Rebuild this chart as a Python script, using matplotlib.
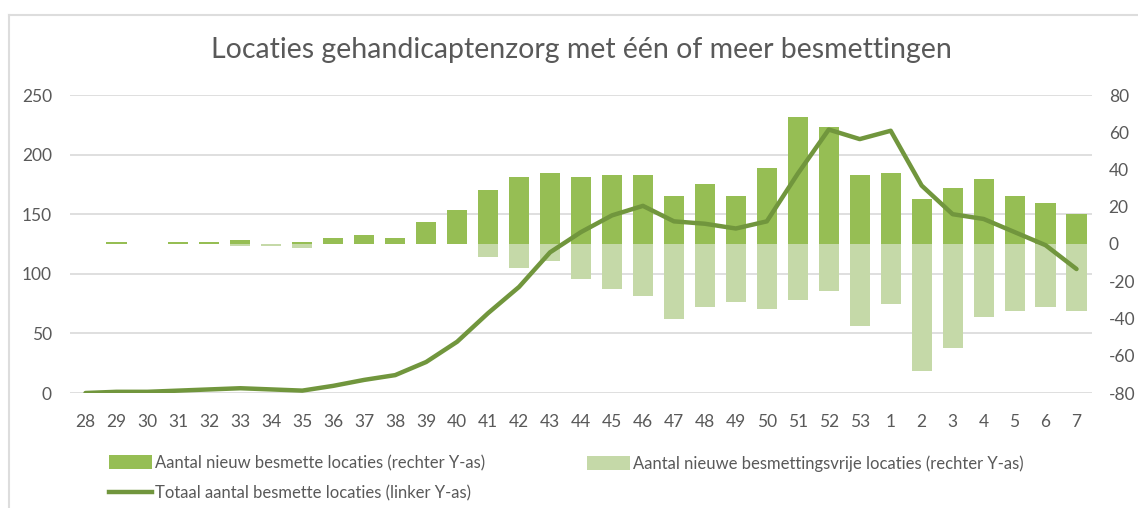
import matplotlib
matplotlib.use("Agg")
import matplotlib.pyplot as plt
from matplotlib.lines import Line2D
from matplotlib.patches import Patch
import numpy as np

weeks = [str(w) for w in range(28, 54)] + [str(w) for w in range(1, 8)]
total_infected = [0, 1, 1, 2, 3, 4, 3, 2, 6, 11, 15, 26, 43, 67, 89, 118, 135, 149,
                  157, 144, 142, 138, 144, 184, 221, 213, 220, 174, 150, 146, 135, 124, 104]
new_infected = [0, 1, 0, 1, 1, 2, 0, 1, 3, 5, 3, 12, 18, 29, 36, 38, 36, 37,
                37, 26, 32, 26, 41, 68, 63, 37, 38, 24, 30, 35, 26, 22, 16]
new_free = [0, 0, 0, 0, 0, -1, -1, -2, 0, 0, 0, 0, 0, -7, -13, -9, -19, -24,
            -28, -40, -34, -31, -35, -30, -25, -44, -32, -68, -56, -39, -36, -34, -36]
left_ticks = [0, 50, 100, 150, 200, 250]
right_ticks = [-80, -60, -40, -20, 0, 20, 40, 60, 80]

title = "Locaties gehandicaptenzorg met één of meer besmettingen"
lbl_new = "Aantal nieuw besmette locaties (rechter Y-as)"
lbl_free = "Aantal nieuwe besmettingsvrije locaties (rechter Y-as)"
lbl_total = "Totaal aantal besmette locaties (linker Y-as)"

C_DARK = "#96BE54"
C_LIGHT = "#C5D9A8"
C_LINE = "#71963D"
C_TEXT = "#595959"
C_GRID = "#D9D9D9"

plt.rcParams['font.family'] = ['Lato', 'DejaVu Sans']
plt.rcParams['axes.unicode_minus'] = False

W, H = 1138, 508
fig = plt.figure(figsize=(W / 100, H / 100), dpi=100)
ax = fig.add_axes([70 / W, (H - 393) / H, 1022 / W, 298 / H])
ax2 = ax.twinx()

x = np.arange(len(weeks))

ax.set_ylim(0, 250)
ax.set_yticks(left_ticks)
ax.set_xlim(-0.5, len(weeks) - 0.5)
ax.grid(axis='y', color=C_GRID, linewidth=1.2)
ax.set_axisbelow(True)
ax.set_xticks(x)
ax.set_xticklabels(weeks)
ax.tick_params(axis='both', length=0, labelsize=12.5, labelcolor=C_TEXT)
ax.tick_params(axis='x', pad=15)
ax.tick_params(axis='y', pad=13)

ax2.set_ylim(-80, 80)
ax2.set_yticks(right_ticks)
ax2.tick_params(axis='y', length=0, labelsize=12.5, labelcolor=C_TEXT, pad=12)

for a in (ax, ax2):
    for s in a.spines.values():
        s.set_visible(False)

bw = 0.65
ax2.bar(x, new_infected, width=bw, color=C_DARK, zorder=2)
ax2.bar(x, new_free, width=bw, color=C_LIGHT, zorder=2)
ax2.plot(x, total_infected, color=C_LINE, linewidth=3.2, solid_capstyle='round',
         solid_joinstyle='round', transform=ax.transData, zorder=3)

fig.text(581 / W, 1 - 50 / H, title, ha='center', va='center', fontsize=20.5, color=C_TEXT)

h_new = Patch(facecolor=C_DARK, edgecolor='none')
h_free = Patch(facecolor=C_LIGHT, edgecolor='none')
h_tot = Line2D([0], [0], color=C_LINE, linewidth=3.2)

leg_kw = dict(loc='upper left', frameon=False, fontsize=12, handlelength=2.6,
              handleheight=0.9, handletextpad=0.15, labelcolor=C_TEXT,
              borderaxespad=0, borderpad=0.3)
leg1 = fig.legend([h_new, h_tot], [lbl_new, lbl_total],
                  bbox_to_anchor=(104 / W, 1 - 450 / H), labelspacing=0.85, **leg_kw)
leg2 = fig.legend([h_free], [lbl_free],
                  bbox_to_anchor=(582 / W, 1 - 450 / H), **leg_kw)

# chart frame border
fig.add_artist(Line2D([9 / W, 1], [1 - 15 / H, 1 - 15 / H], color="#DDDDDD", linewidth=1.5,
                      transform=fig.transFigure))
fig.add_artist(Line2D([9 / W, 9 / W], [0, 1 - 15 / H], color="#DDDDDD", linewidth=1.5,
                      transform=fig.transFigure))

fig.savefig("out.png", dpi=100, facecolor='white')
